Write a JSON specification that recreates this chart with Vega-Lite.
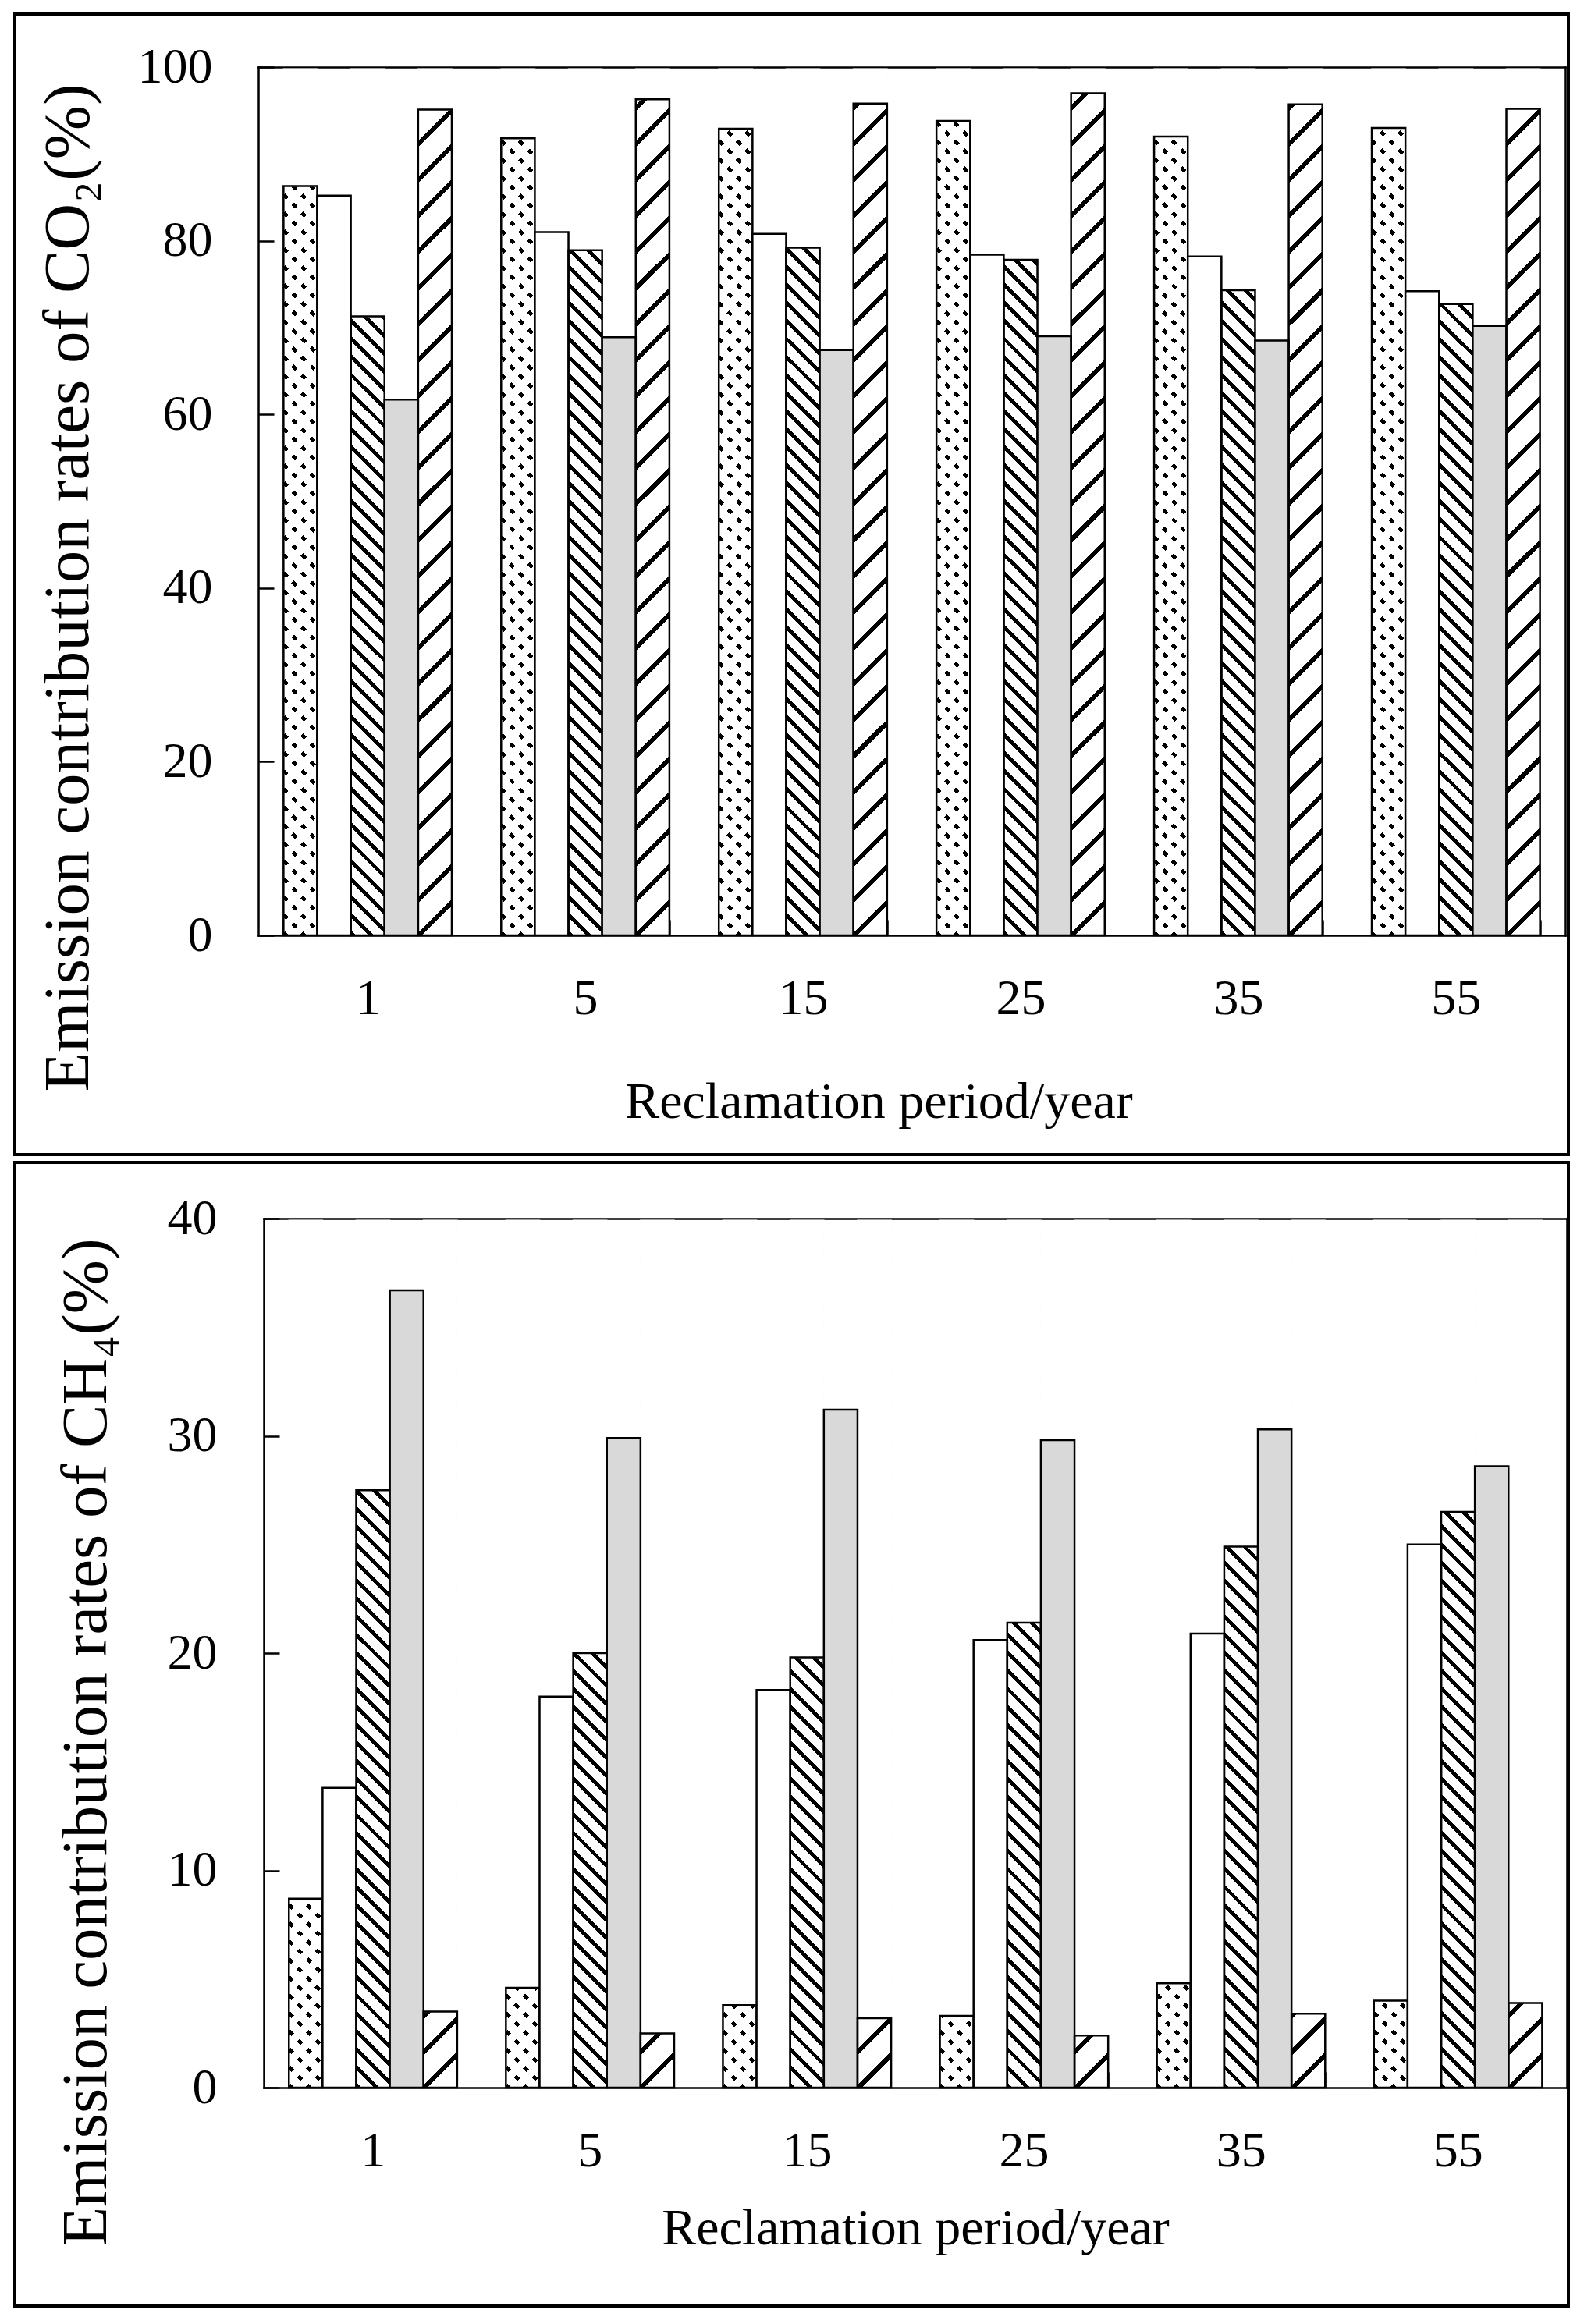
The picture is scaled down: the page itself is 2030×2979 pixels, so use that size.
{
  "$schema": "https://vega.github.io/schema/vega-lite/v6.json",
  "background": "white",
  "padding": {"left": 17, "top": 16, "right": 0, "bottom": 0},
  "bounds": "flush",
  "spacing": 10,
  "params": [
    {"name": "patHatch", "value": {"gradient": "linear", "x1": 0, "y1": 1, "x2": 0.0402, "y2": -0.0373, "stops": [
        {"offset":0,"color":"#000"},{"offset":0.006,"color":"#000"},{"offset":0.006,"color":"#fff"},{"offset":0.02,"color":"#fff"},
        {"offset":0.02,"color":"#000"},{"offset":0.026,"color":"#000"},{"offset":0.026,"color":"#fff"},{"offset":0.04,"color":"#fff"},
        {"offset":0.04,"color":"#000"},{"offset":0.046,"color":"#000"},{"offset":0.046,"color":"#fff"},{"offset":0.06,"color":"#fff"},
        {"offset":0.06,"color":"#000"},{"offset":0.066,"color":"#000"},{"offset":0.066,"color":"#fff"},{"offset":0.08,"color":"#fff"},
        {"offset":0.08,"color":"#000"},{"offset":0.086,"color":"#000"},{"offset":0.086,"color":"#fff"},{"offset":0.1,"color":"#fff"},
        {"offset":0.1,"color":"#000"},{"offset":0.106,"color":"#000"},{"offset":0.106,"color":"#fff"},{"offset":0.12,"color":"#fff"},
        {"offset":0.12,"color":"#000"},{"offset":0.126,"color":"#000"},{"offset":0.126,"color":"#fff"},{"offset":0.14,"color":"#fff"},
        {"offset":0.14,"color":"#000"},{"offset":0.146,"color":"#000"},{"offset":0.146,"color":"#fff"},{"offset":0.16,"color":"#fff"},
        {"offset":0.16,"color":"#000"},{"offset":0.166,"color":"#000"},{"offset":0.166,"color":"#fff"},{"offset":0.18,"color":"#fff"},
        {"offset":0.18,"color":"#000"},{"offset":0.186,"color":"#000"},{"offset":0.186,"color":"#fff"},{"offset":0.2,"color":"#fff"},
        {"offset":0.2,"color":"#000"},{"offset":0.206,"color":"#000"},{"offset":0.206,"color":"#fff"},{"offset":0.22,"color":"#fff"},
        {"offset":0.22,"color":"#000"},{"offset":0.226,"color":"#000"},{"offset":0.226,"color":"#fff"},{"offset":0.24,"color":"#fff"},
        {"offset":0.24,"color":"#000"},{"offset":0.246,"color":"#000"},{"offset":0.246,"color":"#fff"},{"offset":0.26,"color":"#fff"},
        {"offset":0.26,"color":"#000"},{"offset":0.266,"color":"#000"},{"offset":0.266,"color":"#fff"},{"offset":0.28,"color":"#fff"},
        {"offset":0.28,"color":"#000"},{"offset":0.286,"color":"#000"},{"offset":0.286,"color":"#fff"},{"offset":0.3,"color":"#fff"},
        {"offset":0.3,"color":"#000"},{"offset":0.306,"color":"#000"},{"offset":0.306,"color":"#fff"},{"offset":0.32,"color":"#fff"},
        {"offset":0.32,"color":"#000"},{"offset":0.326,"color":"#000"},{"offset":0.326,"color":"#fff"},{"offset":0.34,"color":"#fff"},
        {"offset":0.34,"color":"#000"},{"offset":0.346,"color":"#000"},{"offset":0.346,"color":"#fff"},{"offset":0.36,"color":"#fff"},
        {"offset":0.36,"color":"#000"},{"offset":0.366,"color":"#000"},{"offset":0.366,"color":"#fff"},{"offset":0.38,"color":"#fff"},
        {"offset":0.38,"color":"#000"},{"offset":0.386,"color":"#000"},{"offset":0.386,"color":"#fff"},{"offset":0.4,"color":"#fff"},
        {"offset":0.4,"color":"#000"},{"offset":0.406,"color":"#000"},{"offset":0.406,"color":"#fff"},{"offset":0.42,"color":"#fff"},
        {"offset":0.42,"color":"#000"},{"offset":0.426,"color":"#000"},{"offset":0.426,"color":"#fff"},{"offset":0.44,"color":"#fff"},
        {"offset":0.44,"color":"#000"},{"offset":0.446,"color":"#000"},{"offset":0.446,"color":"#fff"},{"offset":0.46,"color":"#fff"},
        {"offset":0.46,"color":"#000"},{"offset":0.466,"color":"#000"},{"offset":0.466,"color":"#fff"},{"offset":0.48,"color":"#fff"},
        {"offset":0.48,"color":"#000"},{"offset":0.486,"color":"#000"},{"offset":0.486,"color":"#fff"},{"offset":0.5,"color":"#fff"},
        {"offset":0.5,"color":"#000"},{"offset":0.506,"color":"#000"},{"offset":0.506,"color":"#fff"},{"offset":0.52,"color":"#fff"},
        {"offset":0.52,"color":"#000"},{"offset":0.526,"color":"#000"},{"offset":0.526,"color":"#fff"},{"offset":0.54,"color":"#fff"},
        {"offset":0.54,"color":"#000"},{"offset":0.546,"color":"#000"},{"offset":0.546,"color":"#fff"},{"offset":0.56,"color":"#fff"},
        {"offset":0.56,"color":"#000"},{"offset":0.566,"color":"#000"},{"offset":0.566,"color":"#fff"},{"offset":0.58,"color":"#fff"},
        {"offset":0.58,"color":"#000"},{"offset":0.586,"color":"#000"},{"offset":0.586,"color":"#fff"},{"offset":0.6,"color":"#fff"},
        {"offset":0.6,"color":"#000"},{"offset":0.606,"color":"#000"},{"offset":0.606,"color":"#fff"},{"offset":0.62,"color":"#fff"},
        {"offset":0.62,"color":"#000"},{"offset":0.626,"color":"#000"},{"offset":0.626,"color":"#fff"},{"offset":0.64,"color":"#fff"},
        {"offset":0.64,"color":"#000"},{"offset":0.646,"color":"#000"},{"offset":0.646,"color":"#fff"},{"offset":0.66,"color":"#fff"},
        {"offset":0.66,"color":"#000"},{"offset":0.666,"color":"#000"},{"offset":0.666,"color":"#fff"},{"offset":0.68,"color":"#fff"},
        {"offset":0.68,"color":"#000"},{"offset":0.686,"color":"#000"},{"offset":0.686,"color":"#fff"},{"offset":0.7,"color":"#fff"},
        {"offset":0.7,"color":"#000"},{"offset":0.706,"color":"#000"},{"offset":0.706,"color":"#fff"},{"offset":0.72,"color":"#fff"},
        {"offset":0.72,"color":"#000"},{"offset":0.726,"color":"#000"},{"offset":0.726,"color":"#fff"},{"offset":0.74,"color":"#fff"},
        {"offset":0.74,"color":"#000"},{"offset":0.746,"color":"#000"},{"offset":0.746,"color":"#fff"},{"offset":0.76,"color":"#fff"},
        {"offset":0.76,"color":"#000"},{"offset":0.766,"color":"#000"},{"offset":0.766,"color":"#fff"},{"offset":0.78,"color":"#fff"},
        {"offset":0.78,"color":"#000"},{"offset":0.786,"color":"#000"},{"offset":0.786,"color":"#fff"},{"offset":0.8,"color":"#fff"},
        {"offset":0.8,"color":"#000"},{"offset":0.806,"color":"#000"},{"offset":0.806,"color":"#fff"},{"offset":0.82,"color":"#fff"},
        {"offset":0.82,"color":"#000"},{"offset":0.826,"color":"#000"},{"offset":0.826,"color":"#fff"},{"offset":0.84,"color":"#fff"},
        {"offset":0.84,"color":"#000"},{"offset":0.846,"color":"#000"},{"offset":0.846,"color":"#fff"},{"offset":0.86,"color":"#fff"},
        {"offset":0.86,"color":"#000"},{"offset":0.866,"color":"#000"},{"offset":0.866,"color":"#fff"},{"offset":0.88,"color":"#fff"},
        {"offset":0.88,"color":"#000"},{"offset":0.886,"color":"#000"},{"offset":0.886,"color":"#fff"},{"offset":0.9,"color":"#fff"},
        {"offset":0.9,"color":"#000"},{"offset":0.906,"color":"#000"},{"offset":0.906,"color":"#fff"},{"offset":0.92,"color":"#fff"},
        {"offset":0.92,"color":"#000"},{"offset":0.926,"color":"#000"},{"offset":0.926,"color":"#fff"},{"offset":0.94,"color":"#fff"},
        {"offset":0.94,"color":"#000"},{"offset":0.946,"color":"#000"},{"offset":0.946,"color":"#fff"},{"offset":0.96,"color":"#fff"},
        {"offset":0.96,"color":"#000"},{"offset":0.966,"color":"#000"},{"offset":0.966,"color":"#fff"},{"offset":0.98,"color":"#fff"},
        {"offset":0.98,"color":"#000"},{"offset":0.986,"color":"#000"},{"offset":0.986,"color":"#fff"},{"offset":1,"color":"#fff"}
    ]}},
    {"name": "patDot", "value": {"gradient": "linear", "x1": 0, "y1": 0, "x2": 0.0402, "y2": 1.0373, "stops": [
        {"offset":0,"color":"transparent"},{"offset":0.008,"color":"transparent"},{"offset":0.008,"color":"#fff"},{"offset":0.02,"color":"#fff"},
        {"offset":0.02,"color":"transparent"},{"offset":0.028,"color":"transparent"},{"offset":0.028,"color":"#fff"},{"offset":0.04,"color":"#fff"},
        {"offset":0.04,"color":"transparent"},{"offset":0.048,"color":"transparent"},{"offset":0.048,"color":"#fff"},{"offset":0.06,"color":"#fff"},
        {"offset":0.06,"color":"transparent"},{"offset":0.068,"color":"transparent"},{"offset":0.068,"color":"#fff"},{"offset":0.08,"color":"#fff"},
        {"offset":0.08,"color":"transparent"},{"offset":0.088,"color":"transparent"},{"offset":0.088,"color":"#fff"},{"offset":0.1,"color":"#fff"},
        {"offset":0.1,"color":"transparent"},{"offset":0.108,"color":"transparent"},{"offset":0.108,"color":"#fff"},{"offset":0.12,"color":"#fff"},
        {"offset":0.12,"color":"transparent"},{"offset":0.128,"color":"transparent"},{"offset":0.128,"color":"#fff"},{"offset":0.14,"color":"#fff"},
        {"offset":0.14,"color":"transparent"},{"offset":0.148,"color":"transparent"},{"offset":0.148,"color":"#fff"},{"offset":0.16,"color":"#fff"},
        {"offset":0.16,"color":"transparent"},{"offset":0.168,"color":"transparent"},{"offset":0.168,"color":"#fff"},{"offset":0.18,"color":"#fff"},
        {"offset":0.18,"color":"transparent"},{"offset":0.188,"color":"transparent"},{"offset":0.188,"color":"#fff"},{"offset":0.2,"color":"#fff"},
        {"offset":0.2,"color":"transparent"},{"offset":0.208,"color":"transparent"},{"offset":0.208,"color":"#fff"},{"offset":0.22,"color":"#fff"},
        {"offset":0.22,"color":"transparent"},{"offset":0.228,"color":"transparent"},{"offset":0.228,"color":"#fff"},{"offset":0.24,"color":"#fff"},
        {"offset":0.24,"color":"transparent"},{"offset":0.248,"color":"transparent"},{"offset":0.248,"color":"#fff"},{"offset":0.26,"color":"#fff"},
        {"offset":0.26,"color":"transparent"},{"offset":0.268,"color":"transparent"},{"offset":0.268,"color":"#fff"},{"offset":0.28,"color":"#fff"},
        {"offset":0.28,"color":"transparent"},{"offset":0.288,"color":"transparent"},{"offset":0.288,"color":"#fff"},{"offset":0.3,"color":"#fff"},
        {"offset":0.3,"color":"transparent"},{"offset":0.308,"color":"transparent"},{"offset":0.308,"color":"#fff"},{"offset":0.32,"color":"#fff"},
        {"offset":0.32,"color":"transparent"},{"offset":0.328,"color":"transparent"},{"offset":0.328,"color":"#fff"},{"offset":0.34,"color":"#fff"},
        {"offset":0.34,"color":"transparent"},{"offset":0.348,"color":"transparent"},{"offset":0.348,"color":"#fff"},{"offset":0.36,"color":"#fff"},
        {"offset":0.36,"color":"transparent"},{"offset":0.368,"color":"transparent"},{"offset":0.368,"color":"#fff"},{"offset":0.38,"color":"#fff"},
        {"offset":0.38,"color":"transparent"},{"offset":0.388,"color":"transparent"},{"offset":0.388,"color":"#fff"},{"offset":0.4,"color":"#fff"},
        {"offset":0.4,"color":"transparent"},{"offset":0.408,"color":"transparent"},{"offset":0.408,"color":"#fff"},{"offset":0.42,"color":"#fff"},
        {"offset":0.42,"color":"transparent"},{"offset":0.428,"color":"transparent"},{"offset":0.428,"color":"#fff"},{"offset":0.44,"color":"#fff"},
        {"offset":0.44,"color":"transparent"},{"offset":0.448,"color":"transparent"},{"offset":0.448,"color":"#fff"},{"offset":0.46,"color":"#fff"},
        {"offset":0.46,"color":"transparent"},{"offset":0.468,"color":"transparent"},{"offset":0.468,"color":"#fff"},{"offset":0.48,"color":"#fff"},
        {"offset":0.48,"color":"transparent"},{"offset":0.488,"color":"transparent"},{"offset":0.488,"color":"#fff"},{"offset":0.5,"color":"#fff"},
        {"offset":0.5,"color":"transparent"},{"offset":0.508,"color":"transparent"},{"offset":0.508,"color":"#fff"},{"offset":0.52,"color":"#fff"},
        {"offset":0.52,"color":"transparent"},{"offset":0.528,"color":"transparent"},{"offset":0.528,"color":"#fff"},{"offset":0.54,"color":"#fff"},
        {"offset":0.54,"color":"transparent"},{"offset":0.548,"color":"transparent"},{"offset":0.548,"color":"#fff"},{"offset":0.56,"color":"#fff"},
        {"offset":0.56,"color":"transparent"},{"offset":0.568,"color":"transparent"},{"offset":0.568,"color":"#fff"},{"offset":0.58,"color":"#fff"},
        {"offset":0.58,"color":"transparent"},{"offset":0.588,"color":"transparent"},{"offset":0.588,"color":"#fff"},{"offset":0.6,"color":"#fff"},
        {"offset":0.6,"color":"transparent"},{"offset":0.608,"color":"transparent"},{"offset":0.608,"color":"#fff"},{"offset":0.62,"color":"#fff"},
        {"offset":0.62,"color":"transparent"},{"offset":0.628,"color":"transparent"},{"offset":0.628,"color":"#fff"},{"offset":0.64,"color":"#fff"},
        {"offset":0.64,"color":"transparent"},{"offset":0.648,"color":"transparent"},{"offset":0.648,"color":"#fff"},{"offset":0.66,"color":"#fff"},
        {"offset":0.66,"color":"transparent"},{"offset":0.668,"color":"transparent"},{"offset":0.668,"color":"#fff"},{"offset":0.68,"color":"#fff"},
        {"offset":0.68,"color":"transparent"},{"offset":0.688,"color":"transparent"},{"offset":0.688,"color":"#fff"},{"offset":0.7,"color":"#fff"},
        {"offset":0.7,"color":"transparent"},{"offset":0.708,"color":"transparent"},{"offset":0.708,"color":"#fff"},{"offset":0.72,"color":"#fff"},
        {"offset":0.72,"color":"transparent"},{"offset":0.728,"color":"transparent"},{"offset":0.728,"color":"#fff"},{"offset":0.74,"color":"#fff"},
        {"offset":0.74,"color":"transparent"},{"offset":0.748,"color":"transparent"},{"offset":0.748,"color":"#fff"},{"offset":0.76,"color":"#fff"},
        {"offset":0.76,"color":"transparent"},{"offset":0.768,"color":"transparent"},{"offset":0.768,"color":"#fff"},{"offset":0.78,"color":"#fff"},
        {"offset":0.78,"color":"transparent"},{"offset":0.788,"color":"transparent"},{"offset":0.788,"color":"#fff"},{"offset":0.8,"color":"#fff"},
        {"offset":0.8,"color":"transparent"},{"offset":0.808,"color":"transparent"},{"offset":0.808,"color":"#fff"},{"offset":0.82,"color":"#fff"},
        {"offset":0.82,"color":"transparent"},{"offset":0.828,"color":"transparent"},{"offset":0.828,"color":"#fff"},{"offset":0.84,"color":"#fff"},
        {"offset":0.84,"color":"transparent"},{"offset":0.848,"color":"transparent"},{"offset":0.848,"color":"#fff"},{"offset":0.86,"color":"#fff"},
        {"offset":0.86,"color":"transparent"},{"offset":0.868,"color":"transparent"},{"offset":0.868,"color":"#fff"},{"offset":0.88,"color":"#fff"},
        {"offset":0.88,"color":"transparent"},{"offset":0.888,"color":"transparent"},{"offset":0.888,"color":"#fff"},{"offset":0.9,"color":"#fff"},
        {"offset":0.9,"color":"transparent"},{"offset":0.908,"color":"transparent"},{"offset":0.908,"color":"#fff"},{"offset":0.92,"color":"#fff"},
        {"offset":0.92,"color":"transparent"},{"offset":0.928,"color":"transparent"},{"offset":0.928,"color":"#fff"},{"offset":0.94,"color":"#fff"},
        {"offset":0.94,"color":"transparent"},{"offset":0.948,"color":"transparent"},{"offset":0.948,"color":"#fff"},{"offset":0.96,"color":"#fff"},
        {"offset":0.96,"color":"transparent"},{"offset":0.968,"color":"transparent"},{"offset":0.968,"color":"#fff"},{"offset":0.98,"color":"#fff"},
        {"offset":0.98,"color":"transparent"},{"offset":0.988,"color":"transparent"},{"offset":0.988,"color":"#fff"},{"offset":1,"color":"#fff"}
    ]}},
    {"name": "patZig", "value": {"gradient": "linear", "x1": 0, "y1": 0, "x2": 0.0402, "y2": 1.0373, "stops": [
        {"offset":0,"color":"#000"},{"offset":0.007,"color":"#000"},{"offset":0.007,"color":"#fff"},{"offset":0.04,"color":"#fff"},
        {"offset":0.04,"color":"#000"},{"offset":0.047,"color":"#000"},{"offset":0.047,"color":"#fff"},{"offset":0.08,"color":"#fff"},
        {"offset":0.08,"color":"#000"},{"offset":0.087,"color":"#000"},{"offset":0.087,"color":"#fff"},{"offset":0.12,"color":"#fff"},
        {"offset":0.12,"color":"#000"},{"offset":0.127,"color":"#000"},{"offset":0.127,"color":"#fff"},{"offset":0.16,"color":"#fff"},
        {"offset":0.16,"color":"#000"},{"offset":0.167,"color":"#000"},{"offset":0.167,"color":"#fff"},{"offset":0.2,"color":"#fff"},
        {"offset":0.2,"color":"#000"},{"offset":0.207,"color":"#000"},{"offset":0.207,"color":"#fff"},{"offset":0.24,"color":"#fff"},
        {"offset":0.24,"color":"#000"},{"offset":0.247,"color":"#000"},{"offset":0.247,"color":"#fff"},{"offset":0.28,"color":"#fff"},
        {"offset":0.28,"color":"#000"},{"offset":0.287,"color":"#000"},{"offset":0.287,"color":"#fff"},{"offset":0.32,"color":"#fff"},
        {"offset":0.32,"color":"#000"},{"offset":0.327,"color":"#000"},{"offset":0.327,"color":"#fff"},{"offset":0.36,"color":"#fff"},
        {"offset":0.36,"color":"#000"},{"offset":0.367,"color":"#000"},{"offset":0.367,"color":"#fff"},{"offset":0.4,"color":"#fff"},
        {"offset":0.4,"color":"#000"},{"offset":0.407,"color":"#000"},{"offset":0.407,"color":"#fff"},{"offset":0.44,"color":"#fff"},
        {"offset":0.44,"color":"#000"},{"offset":0.447,"color":"#000"},{"offset":0.447,"color":"#fff"},{"offset":0.48,"color":"#fff"},
        {"offset":0.48,"color":"#000"},{"offset":0.487,"color":"#000"},{"offset":0.487,"color":"#fff"},{"offset":0.52,"color":"#fff"},
        {"offset":0.52,"color":"#000"},{"offset":0.527,"color":"#000"},{"offset":0.527,"color":"#fff"},{"offset":0.56,"color":"#fff"},
        {"offset":0.56,"color":"#000"},{"offset":0.567,"color":"#000"},{"offset":0.567,"color":"#fff"},{"offset":0.6,"color":"#fff"},
        {"offset":0.6,"color":"#000"},{"offset":0.607,"color":"#000"},{"offset":0.607,"color":"#fff"},{"offset":0.64,"color":"#fff"},
        {"offset":0.64,"color":"#000"},{"offset":0.647,"color":"#000"},{"offset":0.647,"color":"#fff"},{"offset":0.68,"color":"#fff"},
        {"offset":0.68,"color":"#000"},{"offset":0.687,"color":"#000"},{"offset":0.687,"color":"#fff"},{"offset":0.72,"color":"#fff"},
        {"offset":0.72,"color":"#000"},{"offset":0.727,"color":"#000"},{"offset":0.727,"color":"#fff"},{"offset":0.76,"color":"#fff"},
        {"offset":0.76,"color":"#000"},{"offset":0.767,"color":"#000"},{"offset":0.767,"color":"#fff"},{"offset":0.8,"color":"#fff"},
        {"offset":0.8,"color":"#000"},{"offset":0.807,"color":"#000"},{"offset":0.807,"color":"#fff"},{"offset":0.84,"color":"#fff"},
        {"offset":0.84,"color":"#000"},{"offset":0.847,"color":"#000"},{"offset":0.847,"color":"#fff"},{"offset":0.88,"color":"#fff"},
        {"offset":0.88,"color":"#000"},{"offset":0.887,"color":"#000"},{"offset":0.887,"color":"#fff"},{"offset":0.92,"color":"#fff"},
        {"offset":0.92,"color":"#000"},{"offset":0.927,"color":"#000"},{"offset":0.927,"color":"#fff"},{"offset":0.96,"color":"#fff"},
        {"offset":0.96,"color":"#000"},{"offset":0.967,"color":"#000"},{"offset":0.967,"color":"#fff"},{"offset":1,"color":"#fff"}
    ]}}
  ],
  "config": {
    "view": {"stroke": "black", "strokeWidth": 4, "fill": "white"},
    "axis": {
      "grid": false, "domainColor": "black", "domainWidth": 2.5, "domainCap": "square",
      "tickColor": "black", "tickWidth": 2.5, "labelColor": "black", "labelFont": "Liberation Serif",
      "labelFontSize": 64, "titleColor": "black", "titleFont": "Liberation Serif",
      "titleFontWeight": "normal", "zindex": 1
    }
  },
  "datasets": {
    "co2": [
      {"period":"1","source":"T1","value":86.3},{"period":"1","source":"T2","value":85.2},{"period":"1","source":"T3","value":71.3},{"period":"1","source":"T4","value":61.7},{"period":"1","source":"T5","value":95.1},
      {"period":"5","source":"T1","value":91.8},{"period":"5","source":"T2","value":81.0},{"period":"5","source":"T3","value":78.9},{"period":"5","source":"T4","value":68.9},{"period":"5","source":"T5","value":96.3},
      {"period":"15","source":"T1","value":92.9},{"period":"15","source":"T2","value":80.8},{"period":"15","source":"T3","value":79.2},{"period":"15","source":"T4","value":67.4},{"period":"15","source":"T5","value":95.8},
      {"period":"25","source":"T1","value":93.8},{"period":"25","source":"T2","value":78.4},{"period":"25","source":"T3","value":77.8},{"period":"25","source":"T4","value":69.0},{"period":"25","source":"T5","value":97.0},
      {"period":"35","source":"T1","value":92.0},{"period":"35","source":"T2","value":78.2},{"period":"35","source":"T3","value":74.3},{"period":"35","source":"T4","value":68.5},{"period":"35","source":"T5","value":95.7},
      {"period":"55","source":"T1","value":93.0},{"period":"55","source":"T2","value":74.2},{"period":"55","source":"T3","value":72.7},{"period":"55","source":"T4","value":70.2},{"period":"55","source":"T5","value":95.2}
    ],
    "ch4": [
      {"period":"1","source":"T1","value":8.7},{"period":"1","source":"T2","value":13.8},{"period":"1","source":"T3","value":27.5},{"period":"1","source":"T4","value":36.7},{"period":"1","source":"T5","value":3.5},
      {"period":"5","source":"T1","value":4.6},{"period":"5","source":"T2","value":18.0},{"period":"5","source":"T3","value":20.0},{"period":"5","source":"T4","value":29.9},{"period":"5","source":"T5","value":2.5},
      {"period":"15","source":"T1","value":3.8},{"period":"15","source":"T2","value":18.3},{"period":"15","source":"T3","value":19.8},{"period":"15","source":"T4","value":31.2},{"period":"15","source":"T5","value":3.2},
      {"period":"25","source":"T1","value":3.3},{"period":"25","source":"T2","value":20.6},{"period":"25","source":"T3","value":21.4},{"period":"25","source":"T4","value":29.8},{"period":"25","source":"T5","value":2.4},
      {"period":"35","source":"T1","value":4.8},{"period":"35","source":"T2","value":20.9},{"period":"35","source":"T3","value":24.9},{"period":"35","source":"T4","value":30.3},{"period":"35","source":"T5","value":3.4},
      {"period":"55","source":"T1","value":4.0},{"period":"55","source":"T2","value":25.0},{"period":"55","source":"T3","value":26.5},{"period":"55","source":"T4","value":28.6},{"period":"55","source":"T5","value":3.9}
    ]
  },
  "vconcat": [
    {
      "width": 1991,
      "height": 1462,
      "data": {"name": "co2"},
      "resolve": {"axis": {"x": "independent", "y": "independent"}},
      "encoding": {
        "x": {"field": "period", "type": "ordinal", "sort": ["1","5","15","25","35","55"], "scale": {"range": [312, 1987], "paddingInner": 0.227, "paddingOuter": 0.116}, "axis": null},
        "xOffset": {"field": "source", "type": "nominal", "scale": {"domain": ["T1","T2","T3","T4","T5"]}},
        "y": {"field": "value", "type": "quantitative", "scale": {"domain": [0, 100], "range": [1181, 68], "nice": false}, "axis": null}
      },
      "layer": [
        {
          "transform": [{"filter": {"field": "source", "oneOf": ["T1","T3"]}}],
          "mark": {"type": "bar", "fill": {"expr": "patHatch"}},
          "encoding": {"y": {"datum": 99.8, "type": "quantitative", "axis": null}, "y2": {"datum": 0}}
        },
        {
          "transform": [{"filter": {"field": "source", "equal": "T1"}}],
          "mark": {"type": "bar", "fill": {"expr": "patDot"}},
          "encoding": {"y": {"datum": 99.8, "type": "quantitative", "axis": null}, "y2": {"datum": 0}}
        },
        {
          "transform": [{"filter": {"field": "source", "equal": "T5"}}],
          "mark": {"type": "bar", "fill": {"expr": "patZig"}},
          "encoding": {"y": {"datum": 99.8, "type": "quantitative", "axis": null}, "y2": {"datum": 0}}
        },
        {
          "transform": [{"filter": {"field": "source", "oneOf": ["T1","T3","T5"]}}],
          "mark": {"type": "bar", "fill": "white", "stroke": "white", "strokeWidth": 1.5},
          "encoding": {
            "x": {"field": "period", "type": "ordinal", "sort": ["1","5","15","25","35","55"], "axis": {"orient": "top", "offset": -68, "labels": false, "ticks": false, "title": null}},
            "y": {"field": "value", "type": "quantitative", "axis": {"orient": "right", "offset": -4, "labels": false, "ticks": false, "title": null}},
            "y2": {"datum": 99.8}
          }
        },
        {
          "mark": {"type": "bar", "stroke": "black", "strokeWidth": 2.5},
          "encoding": {
            "x": {"field": "period", "type": "ordinal", "sort": ["1","5","15","25","35","55"], "axis": {"orient": "bottom", "offset": -281, "tickBand": "extent", "tickSize": -20, "labelAngle": 0, "labelPadding": 69, "title": "Reclamation period/year", "titleFontSize": 66, "titleX": 1107, "titleY": 213, "titleAlign": "center", "titleBaseline": "middle"}},
            "y": {"field": "value", "type": "quantitative", "axis": {"orient": "left", "offset": -312, "values": [0, 20, 40, 60, 80, 100], "tickSize": -20, "labelPadding": 79, "title": "Emission contribution rates of CO₂(%)", "titleFontSize": 83, "titleX": -244, "titleY": 735, "titleAngle": 270, "titleAlign": "center", "titleBaseline": "middle"}},
            "y2": {"datum": 0},
            "fill": {"field": "source", "type": "nominal", "scale": {"domain": ["T1","T2","T3","T4","T5"], "range": ["transparent", "#ffffff", "transparent", "#d9d9d9", "transparent"]}, "legend": null}
          }
        }
      ]
    },
    {
      "width": 1991,
      "height": 1466,
      "data": {"name": "ch4"},
      "resolve": {"axis": {"x": "independent", "y": "independent"}},
      "encoding": {
        "x": {"field": "period", "type": "ordinal", "sort": ["1","5","15","25","35","55"], "scale": {"range": [319, 1989], "paddingInner": 0.227, "paddingOuter": 0.116}, "axis": null},
        "xOffset": {"field": "source", "type": "nominal", "scale": {"domain": ["T1","T2","T3","T4","T5"]}},
        "y": {"field": "value", "type": "quantitative", "scale": {"domain": [0, 40], "range": [1186, 72], "nice": false}, "axis": null}
      },
      "layer": [
        {
          "transform": [{"filter": {"field": "source", "oneOf": ["T1","T3"]}}],
          "mark": {"type": "bar", "fill": {"expr": "patHatch"}},
          "encoding": {"y": {"datum": 39.92, "type": "quantitative", "axis": null}, "y2": {"datum": 0}}
        },
        {
          "transform": [{"filter": {"field": "source", "equal": "T1"}}],
          "mark": {"type": "bar", "fill": {"expr": "patDot"}},
          "encoding": {"y": {"datum": 39.92, "type": "quantitative", "axis": null}, "y2": {"datum": 0}}
        },
        {
          "transform": [{"filter": {"field": "source", "equal": "T5"}}],
          "mark": {"type": "bar", "fill": {"expr": "patZig"}},
          "encoding": {"y": {"datum": 39.92, "type": "quantitative", "axis": null}, "y2": {"datum": 0}}
        },
        {
          "transform": [{"filter": {"field": "source", "oneOf": ["T1","T3","T5"]}}],
          "mark": {"type": "bar", "fill": "white", "stroke": "white", "strokeWidth": 1.5},
          "encoding": {
            "x": {"field": "period", "type": "ordinal", "sort": ["1","5","15","25","35","55"], "axis": {"orient": "top", "offset": -72, "labels": false, "ticks": false, "title": null}},
            "y": {"field": "value", "type": "quantitative", "axis": {"orient": "right", "offset": -2, "labels": false, "ticks": false, "title": null}},
            "y2": {"datum": 39.92}
          }
        },
        {
          "mark": {"type": "bar", "stroke": "black", "strokeWidth": 2.5},
          "encoding": {
            "x": {"field": "period", "type": "ordinal", "sort": ["1","5","15","25","35","55"], "axis": {"orient": "bottom", "offset": -280, "tickBand": "extent", "tickSize": -20, "labelAngle": 0, "labelPadding": 69, "title": "Reclamation period/year", "titleFontSize": 66, "titleX": 1154, "titleY": 180, "titleAlign": "center", "titleBaseline": "middle"}},
            "y": {"field": "value", "type": "quantitative", "axis": {"orient": "left", "offset": -319, "values": [0, 10, 20, 30, 40], "tickSize": -20, "labelPadding": 80, "title": "Emission contribution rates of CH₄(%)", "titleFontSize": 83, "titleX": -228, "titleY": 743, "titleAngle": 270, "titleAlign": "center", "titleBaseline": "middle"}},
            "y2": {"datum": 0},
            "fill": {"field": "source", "type": "nominal", "scale": {"domain": ["T1","T2","T3","T4","T5"], "range": ["transparent", "#ffffff", "transparent", "#d9d9d9", "transparent"]}, "legend": null}
          }
        }
      ]
    }
  ]
}
